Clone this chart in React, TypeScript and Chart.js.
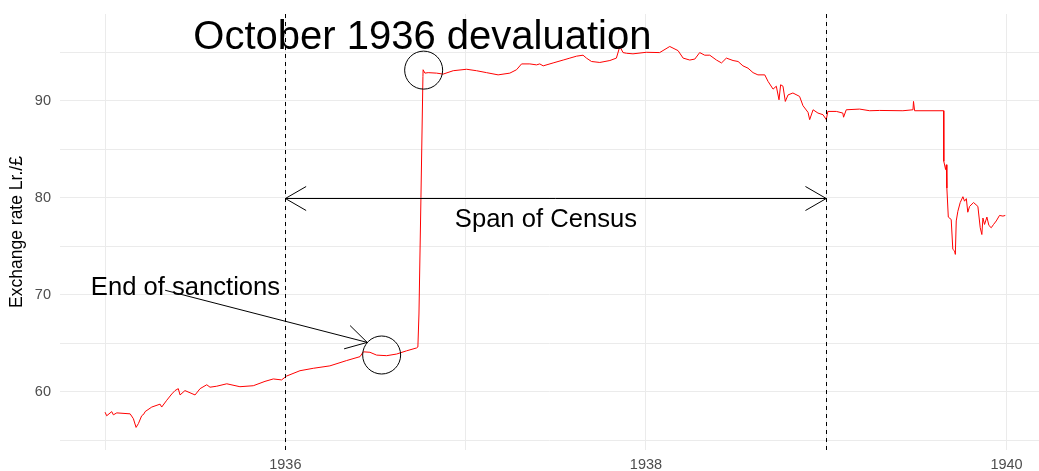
import React, { useEffect, useRef } from "react";
import { Chart, registerables } from "chart.js";

Chart.register(...registerables);

// Decimal years of the observations
const years = [
  1935.0, 1935.009, 1935.037, 1935.046, 1935.065, 1935.139, 1935.157, 1935.172, 1935.185, 1935.203,
  1935.216, 1935.222, 1935.259, 1935.305, 1935.314, 1935.342, 1935.37, 1935.388, 1935.406, 1935.416,
  1935.443, 1935.499, 1935.527, 1935.564, 1935.582, 1935.619, 1935.675, 1935.748, 1935.822, 1935.887,
  1935.933, 1935.979, 1936.007, 1936.081, 1936.155, 1936.247, 1936.34, 1936.414, 1936.432, 1936.469,
  1936.506, 1936.562, 1936.617, 1936.672, 1936.728, 1936.735, 1936.741, 1936.752, 1936.763, 1936.764,
  1936.774, 1936.792, 1936.839, 1936.875, 1936.931, 1937.005, 1937.06, 1937.116, 1937.18, 1937.245,
  1937.282, 1937.31, 1937.356, 1937.393, 1937.411, 1937.43, 1937.485, 1937.541, 1937.578, 1937.615,
  1937.651, 1937.67, 1937.698, 1937.744, 1937.8, 1937.836, 1937.855, 1937.873, 1937.892, 1937.928,
  1938.002, 1938.076, 1938.132, 1938.178, 1938.206, 1938.243, 1938.271, 1938.298, 1938.326, 1938.354,
  1938.391, 1938.419, 1938.446, 1938.483, 1938.511, 1938.538, 1938.566, 1938.594, 1938.621, 1938.659,
  1938.677, 1938.705, 1938.723, 1938.738, 1938.747, 1938.76, 1938.773, 1938.788, 1938.815, 1938.852,
  1938.871, 1938.899, 1938.908, 1938.927, 1938.954, 1938.982, 1939.0, 1939.009, 1939.056, 1939.092,
  1939.096, 1939.111, 1939.185, 1939.241, 1939.296, 1939.425, 1939.481, 1939.484, 1939.49, 1939.651,
  1939.652, 1939.662, 1939.666, 1939.669, 1939.677, 1939.693, 1939.702, 1939.712, 1939.716, 1939.721,
  1939.73, 1939.743, 1939.758, 1939.767, 1939.777, 1939.785, 1939.795, 1939.817, 1939.841, 1939.854,
  1939.863, 1939.869, 1939.878, 1939.891, 1939.902, 1939.915, 1939.928, 1939.943, 1939.961, 1939.98,
  1939.993,
];

// Exchange rate, lire per pound
const rates = [
  57.87, 57.5, 57.93, 57.6, 57.8, 57.7, 57.2, 56.3, 56.7, 57.5,
  57.7, 57.93, 58.4, 58.7, 58.4, 59.1, 59.75, 60.1, 60.3, 59.65,
  60.1, 59.65, 60.3, 60.7, 60.45, 60.55, 60.8, 60.5, 60.6, 61.05,
  61.3, 61.2, 61.6, 62.15, 62.4, 62.65, 63.2, 63.6, 64.1, 64.05,
  63.76, 63.7, 63.87, 64.2, 64.5, 64.6, 68.0, 80.0, 92.5, 93.2,
  92.85, 92.9, 92.85, 92.75, 93.1, 93.25, 93.1, 92.9, 92.67, 92.85,
  93.2, 93.8, 93.8, 93.7, 93.8, 93.6, 93.9, 94.2, 94.4, 94.6,
  94.7, 94.4, 94.05, 93.95, 94.15, 94.4, 95.6, 94.97, 94.9, 94.84,
  95.0, 94.97, 95.6, 95.17, 94.4, 94.2, 94.3, 94.97, 94.7, 94.7,
  94.2, 93.9, 94.4, 94.15, 94.05, 93.6, 93.36, 92.9, 92.67, 92.67,
  92.0, 91.2, 91.5, 90.1, 91.65, 91.5, 89.93, 90.6, 90.8, 90.45,
  89.49, 88.8, 88.05, 89.07, 88.73, 88.56, 88.05, 88.9, 88.9, 88.73,
  88.3, 89.07, 89.14, 88.97, 89.0, 88.97, 89.07, 89.93, 88.97, 88.97,
  83.75, 82.9, 83.4, 81.0, 78.0, 77.75, 74.67, 74.5, 74.15, 77.6,
  78.6, 79.5, 80.1, 79.64, 79.9, 78.5, 79.1, 79.5, 79.1, 76.9,
  76.2, 77.9, 77.24, 78.0, 77.14, 76.9, 77.24, 77.6, 78.17, 78.1,
  78.17,
];

const xTickYears = [1935, 1936, 1937, 1938, 1939, 1940];
const xLabelYears = [1936, 1938, 1940];
const yTickValues = [55, 60, 65, 70, 75, 80, 85, 90, 95];
const yLabelValues = [60, 70, 80, 90];

// Annotations (data coordinates)
const censusYears = [1936, 1939];
const censusArrowRate = 80;
const circleYears = [1936.534, 1936.767];
const circleRates = [63.77, 93.16];
const sanctionsArrowYears = [1935.333, 1936.454];
const sanctionsArrowRates = [70.45, 65.07];
const labelTexts = ["October 1936 devaluation", "Span of Census", "End of sanctions"];
const labelYears = [1936.76, 1937.445, 1935.446];
const labelRates = [95.35, 77.0, 70.0];
const labelSizes = [40, 25.6, 25.6];

const FONT = "'Liberation Sans', Arial, sans-serif";

function drawArrowHead(ctx: CanvasRenderingContext2D, tx: number, ty: number, fx: number, fy: number) {
  const ang = Math.atan2(ty - fy, tx - fx);
  const len = 24;
  const spread = Math.PI / 6;
  ctx.beginPath();
  ctx.moveTo(tx - len * Math.cos(ang - spread), ty - len * Math.sin(ang - spread));
  ctx.lineTo(tx, ty);
  ctx.lineTo(tx - len * Math.cos(ang + spread), ty - len * Math.sin(ang + spread));
  ctx.stroke();
}

const annotationPlugin = {
  id: "annotations",
  afterDatasetsDraw(chart: any) {
    const { ctx, chartArea } = chart;
    const xs = chart.scales.x;
    const ys = chart.scales.y;
    ctx.save();
    ctx.strokeStyle = "#000";
    ctx.lineWidth = 1;

    // dashed census lines
    ctx.setLineDash([4, 4]);
    censusYears.forEach((yr) => {
      const px = Math.round(xs.getPixelForValue(yr)) + 0.5;
      ctx.beginPath();
      ctx.moveTo(px, chartArea.top);
      ctx.lineTo(px, chartArea.bottom);
      ctx.stroke();
    });
    ctx.setLineDash([]);

    // span arrow
    const ax0 = xs.getPixelForValue(censusYears[0]);
    const ax1 = xs.getPixelForValue(censusYears[1]);
    const ay = Math.round(ys.getPixelForValue(censusArrowRate)) + 0.5;
    ctx.beginPath();
    ctx.moveTo(ax0, ay);
    ctx.lineTo(ax1, ay);
    ctx.stroke();
    drawArrowHead(ctx, ax0, ay, ax1, ay);
    drawArrowHead(ctx, ax1, ay, ax0, ay);

    // sanctions arrow
    const sx0 = xs.getPixelForValue(sanctionsArrowYears[0]);
    const sy0 = ys.getPixelForValue(sanctionsArrowRates[0]);
    const sx1 = xs.getPixelForValue(sanctionsArrowYears[1]);
    const sy1 = ys.getPixelForValue(sanctionsArrowRates[1]);
    ctx.beginPath();
    ctx.moveTo(sx0, sy0);
    ctx.lineTo(sx1, sy1);
    ctx.stroke();
    drawArrowHead(ctx, sx1, sy1, sx0, sy0);

    // circles
    circleYears.forEach((yr, i) => {
      ctx.beginPath();
      ctx.arc(xs.getPixelForValue(yr), ys.getPixelForValue(circleRates[i]), 19, 0, Math.PI * 2);
      ctx.stroke();
    });

    // labels
    ctx.fillStyle = "#000";
    ctx.textAlign = "center";
    ctx.textBaseline = "alphabetic";
    labelTexts.forEach((t, i) => {
      ctx.font = `${labelSizes[i]}px ${FONT}`;
      ctx.fillText(t, xs.getPixelForValue(labelYears[i]), ys.getPixelForValue(labelRates[i]));
    });
    ctx.restore();
  },
};

export default function App() {
  const canvasRef = useRef<HTMLCanvasElement | null>(null);

  useEffect(() => {
    const canvas = canvasRef.current;
    if (!canvas) return;
    const chart = new Chart(canvas, {
      type: "line",
      data: {
        datasets: [
          {
            data: years.map((yr, i) => ({ x: yr, y: rates[i] })),
            borderColor: "#ff0000",
            borderWidth: 1,
            pointRadius: 0,
            tension: 0,
            fill: false,
          },
        ],
      },
      options: {
        animation: false,
        responsive: false,
        devicePixelRatio: 1,
        events: [],
        layout: { padding: { top: 14, right: 0, left: 0, bottom: 0 } },
        plugins: {
          legend: { display: false },
          tooltip: { enabled: false },
          title: { display: false },
        },
        scales: {
          x: {
            type: "linear",
            min: 1934.75,
            max: 1940.18,
            afterBuildTicks: (s: any) => {
              s.ticks = xTickYears.map((v) => ({ value: v }));
            },
            afterFit: (s: any) => {
              s.height = 21;
              s.paddingLeft = 0;
              s.paddingRight = 0;
            },
            grid: { color: "#ebebeb", lineWidth: 1, drawTicks: false },
            border: { display: false },
            ticks: {
              autoSkip: false,
              maxRotation: 0,
              padding: 6,
              color: "#4d4d4d",
              font: { family: FONT, size: 14.5 },
              callback: (v: any) => (xLabelYears.includes(Number(v)) ? String(v) : ""),
            },
          },
          y: {
            type: "linear",
            min: 53.97,
            max: 98.95,
            afterBuildTicks: (s: any) => {
              s.ticks = yTickValues.map((v) => ({ value: v }));
            },
            afterFit: (s: any) => {
              s.width = 60;
              s.paddingTop = 0;
              s.paddingBottom = 0;
            },
            grid: { color: "#ebebeb", lineWidth: 1, drawTicks: false },
            border: { display: false },
            title: {
              display: true,
              text: "Exchange rate Lr./£",
              color: "#000",
              font: { family: FONT, size: 17.5 },
              padding: { top: 7, bottom: 0 },
            },
            ticks: {
              autoSkip: false,
              padding: 9,
              color: "#4d4d4d",
              font: { family: FONT, size: 14.5 },
              callback: (v: any) => (yLabelValues.includes(Number(v)) ? String(v) : ""),
            },
          },
        },
      },
      plugins: [annotationPlugin],
    } as any);
    return () => chart.destroy();
  }, []);

  return (
    <div style={{ position: "absolute", left: 0, top: 0, width: 1039, height: 471, background: "#fff" }}>
      <canvas ref={canvasRef} width={1039} height={471} style={{ width: 1039, height: 471, display: "block" }} />
    </div>
  );
}
